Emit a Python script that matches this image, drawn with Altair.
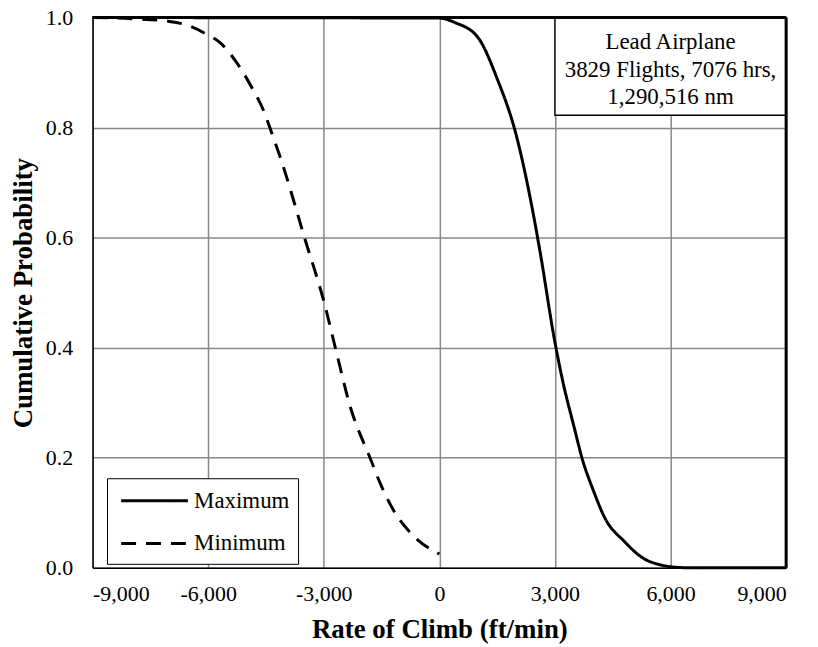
import altair as alt
import pandas as pd

series_names = ["Maximum", "Minimum"]

max_x = [-9000, 0, 400, 1000, 1500, 2000, 2400, 2600, 3000, 3200, 3500, 3700,
         4000, 4300, 4800, 5300, 5700, 6000, 6500, 9000]
max_p = [1.0, 0.999, 0.991, 0.964, 0.889, 0.785, 0.657, 0.58, 0.41, 0.34, 0.255,
         0.20, 0.14, 0.09, 0.048, 0.017, 0.006, 0.002, 0.0, 0.0]

min_x = [-9000, -8000, -7000, -6500, -6000, -5700, -5300, -4900, -4500, -4400,
         -4100, -3650, -3500, -3200, -3000, -2700, -2300, -1800, -1500, -1150, -700, 0]
min_p = [1.0, 0.998, 0.993, 0.985, 0.968, 0.955, 0.922, 0.877, 0.82, 0.80,
         0.74, 0.636, 0.60, 0.533, 0.485, 0.40, 0.29, 0.20, 0.148, 0.10, 0.06, 0.025]

x_ticks = [-9000, -6000, -3000, 0, 3000, 6000, 9000]
y_ticks = [0.0, 0.2, 0.4, 0.6, 0.8, 1.0]

note_lines = ["Lead Airplane", "3829 Flights, 7076 hrs,", "1,290,516 nm"]
note_box = {"x": [3000], "x2": [9000], "y": [0.8224], "y2": [1.0]}
note_anchor = {"x": [6000], "y": [0.9548]}

FONT = "Liberation Serif"

df = pd.concat([
    pd.DataFrame({"x": max_x, "p": max_p, "series": series_names[0], "order": range(len(max_x))}),
    pd.DataFrame({"x": min_x, "p": min_p, "series": series_names[1], "order": range(len(min_x))}),
])

xscale = alt.Scale(domain=[-9000, 9000], nice=False, zero=False)
yscale = alt.Scale(domain=[0, 1], nice=False)

lines = alt.Chart(df).mark_line(strokeWidth=3, interpolate="monotone", color="black").encode(
    x=alt.X("x:Q", scale=xscale,
            axis=alt.Axis(values=x_ticks, title="Rate of Climb (ft/min)",
                          labelExpr="(datum.value < 0 ? '-' : '') + format(abs(datum.value), ',')")),
    y=alt.Y("p:Q", scale=yscale,
            axis=alt.Axis(values=y_ticks, format=".1f", title="Cumulative Probability")),
    strokeDash=alt.StrokeDash(
        "series:N",
        scale=alt.Scale(domain=series_names, range=[[1, 0], [15, 10]]),
        legend=alt.Legend(
            title=None, orient="none", legendX=14.5, legendY=463,
            symbolType="M-4.16,0H1", symbolSize=676, symbolStrokeWidth=3,
            symbolOffset=45.8, symbolStrokeColor="black",
            labelFont=FONT, labelFontSize=23, labelColor="black", labelOffset=4.7,
            rowPadding=16, padding=8,
            strokeColor="black", fillColor="white",
        ),
    ),
    order="order:Q",
)

box = alt.Chart(pd.DataFrame(note_box)).mark_rect(
    fill="white", stroke="black", strokeWidth=1.5
).encode(x=alt.X("x:Q", scale=xscale), x2="x2:Q", y=alt.Y("y:Q", scale=yscale), y2="y2:Q")

note = alt.Chart(pd.DataFrame(note_anchor)).mark_text(
    text="\n".join(note_lines), lineBreak="\n", lineHeight=27.5, font=FONT, fontSize=23,
    align="center", baseline="middle", color="black"
).encode(x=alt.X("x:Q", scale=xscale), y=alt.Y("y:Q", scale=yscale))

top_rule = alt.Chart(pd.DataFrame({"y": [1.0]})).mark_rule(strokeWidth=3, color="black").encode(
    y=alt.Y("y:Q", scale=yscale))
right_rule = alt.Chart(pd.DataFrame({"x": [9000]})).mark_rule(strokeWidth=3, color="black").encode(
    x=alt.X("x:Q", scale=xscale))

chart = alt.layer(lines, box, note, top_rule, right_rule).properties(
    width=697, height=553,
    autosize=alt.AutoSizeParams(type="none"),
    padding={"left": 85, "top": 8, "right": 24, "bottom": 78},
).configure_view(stroke=None).configure_axis(
    labelFont=FONT, labelFontSize=22, labelColor="black",
    titleFont=FONT, titleFontWeight="bold", titleColor="black", titleFontSize=27,
    grid=True, gridColor="#888888", gridWidth=1.5,
    ticks=False, tickSize=0, domainColor="black", domainWidth=1.5,
).configure_axisX(labelPadding=16, titlePadding=12).configure_axisY(
    labelPadding=20, titlePadding=8
)

chart.save("out.html", embed_options={"renderer": "svg", "actions": False})
